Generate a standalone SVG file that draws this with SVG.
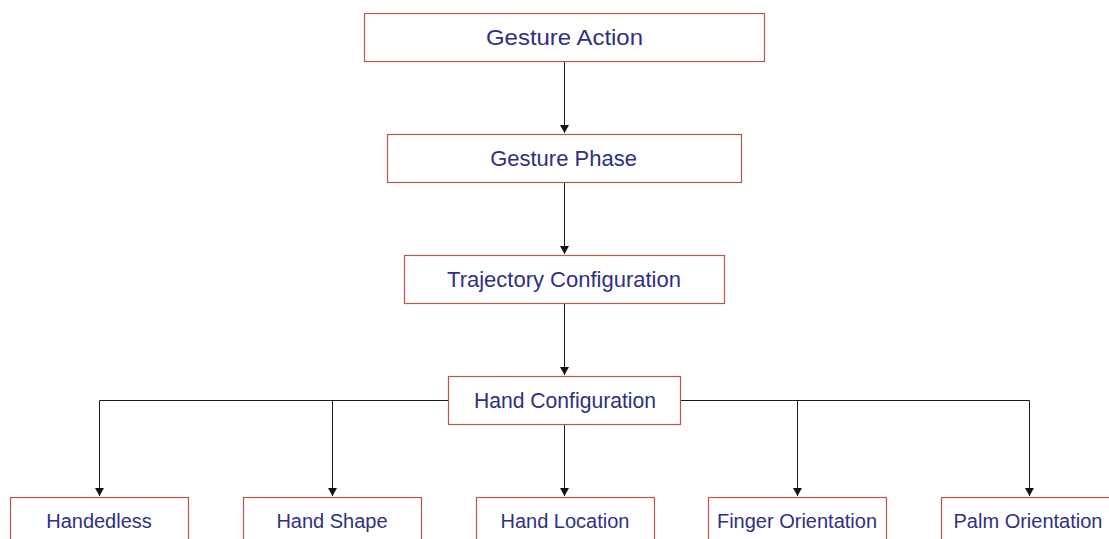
<svg xmlns="http://www.w3.org/2000/svg" width="1109" height="539" viewBox="0 0 1109 539">
<style>
.box{fill:#ffffff;stroke:#b9574f;stroke-width:1.2}
.lbl{font-family:"Liberation Sans",Arial,sans-serif;fill:#2e3084;text-anchor:middle}
.big{font-size:22px}
.sm{font-size:20px}
.con{fill:none;stroke:#1a1a1a;stroke-width:1}
</style>
<defs>
<marker id="ah" markerWidth="8" markerHeight="10" refX="8" refY="5" orient="auto" markerUnits="userSpaceOnUse">
<path d="M0,0.5 L8,5 L0,9.5 Z" fill="#111"/>
</marker>
</defs>
<rect width="1109" height="539" fill="#ffffff"/>
<g id="connectors">
<path class="con" d="M564.5,61 V133" marker-end="url(#ah)"/>
<path class="con" d="M564.5,182 V254" marker-end="url(#ah)"/>
<path class="con" d="M564.5,303 V375" marker-end="url(#ah)"/>
<path class="con" d="M564.5,424 V496" marker-end="url(#ah)"/>
<path class="con" d="M448,400.5 H99.5 V496" marker-end="url(#ah)"/>
<path class="con" d="M332.5,400.5 V496" marker-end="url(#ah)"/>
<path class="con" d="M680,400.5 H1029.5 V496" marker-end="url(#ah)"/>
<path class="con" d="M797.5,400.5 V496" marker-end="url(#ah)"/>
</g>
<g id="gesture-action">
<rect class="box" x="364.5" y="13.5" width="400" height="48"/>
<text class="lbl big" x="564.5" y="45" textLength="157" lengthAdjust="spacingAndGlyphs">Gesture Action</text>
</g>
<g id="gesture-phase">
<rect class="box" x="387.5" y="134.5" width="354" height="48"/>
<text class="lbl big" x="563.5" y="166">Gesture Phase</text>
</g>
<g id="trajectory-configuration">
<rect class="box" x="404.5" y="255.5" width="320" height="48"/>
<text class="lbl big" x="564" y="287">Trajectory Configuration</text>
</g>
<g id="hand-configuration">
<rect class="box" x="448.5" y="376.5" width="232" height="48"/>
<text class="lbl big" x="565" y="408" textLength="182" lengthAdjust="spacingAndGlyphs">Hand Configuration</text>
</g>
<g id="handedless">
<rect class="box" x="10.5" y="497.5" width="178" height="48"/>
<text class="lbl sm" x="99" y="528">Handedless</text>
</g>
<g id="hand-shape">
<rect class="box" x="243.5" y="497.5" width="178" height="48"/>
<text class="lbl sm" x="332" y="528">Hand Shape</text>
</g>
<g id="hand-location">
<rect class="box" x="476.5" y="497.5" width="178" height="48"/>
<text class="lbl sm" x="565" y="528">Hand Location</text>
</g>
<g id="finger-orientation">
<rect class="box" x="708.5" y="497.5" width="178" height="48"/>
<text class="lbl sm" x="797" y="528">Finger Orientation</text>
</g>
<g id="palm-orientation">
<rect class="box" x="941.5" y="497.5" width="178" height="48"/>
<text class="lbl sm" x="1028" y="528">Palm Orientation</text>
</g>
</svg>
